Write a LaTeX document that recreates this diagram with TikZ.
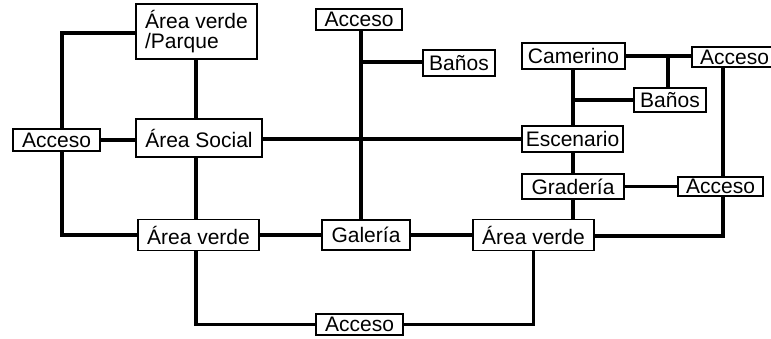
\documentclass[tikz,border=0pt]{standalone}
\usepackage{fontspec}
\setmainfont{Liberation Sans}
\usepackage{tikz}
\usetikzlibrary{calc,positioning,backgrounds}

\begin{document}
\begin{tikzpicture}[x=1pt,y=-1pt,
  box/.style={draw,line width=1.8pt,fill=white,inner sep=0pt,
    font=\fontsize{21}{19.5}\selectfont},
  link/.style={line width=3.8pt}]
  \useasboundingbox (0,0) rectangle (771,338);
  % areas
  \node[box,minimum width=121pt,minimum height=55pt,align=left] (parque) at (196.5,31.5) {Área verde\\/Parque};
  \node[box,minimum width=87pt,minimum height=22pt] (accLeft) at (56.5,140) {Acceso};
  \node[box,minimum width=126pt,minimum height=38pt] (social) at (199,138) {Área Social};
  \node[box,minimum width=86pt,minimum height=21pt] (accTop) at (359,19.5) {Acceso};
  \node[box,minimum width=72pt,minimum height=26pt] (banosA) at (459,63) {Baños};
  \node[box,minimum width=121pt,minimum height=31pt] (verdeA) at (198.5,235) {Área verde};
  \node[box,minimum width=88pt,minimum height=30pt] (galeria) at (366,235) {Galería};
  \node[box,minimum width=121pt,minimum height=31pt] (verdeB) at (533.5,235) {Área verde};
  \node[box,minimum width=87pt,minimum height=21pt] (accBot) at (359.5,324.5) {Acceso};
  % stage side
  \node[box,minimum width=103pt,minimum height=26pt] (camerino) at (573.5,56) {Camerino};
  \node[box,minimum width=85pt,minimum height=20pt] (accRT) at (734.5,57) {Acceso};
  \node[box,minimum width=72pt,minimum height=24pt] (banosB) at (670,100) {Baños};
  \node[box,minimum width=101pt,minimum height=26pt] (escenario) at (572.5,139) {Escenario};
  \node[box,minimum width=102pt,minimum height=25pt] (graderia) at (573,186.5) {Gradería};
  \node[box,minimum width=85pt,minimum height=19pt] (accRM) at (720.5,186.5) {Acceso};
  % guide points
  \coordinate (lx) at (62,33);
  \coordinate (mx) at (196,0);
  \coordinate (vx) at (361,62);
  \coordinate (sx) at (573,100);
  \coordinate (bx) at (668,56);
  \coordinate (rx) at (723,236);
  \begin{scope}[on background layer]
  \draw[link] (parque.west |- lx) -- (lx) -- (accLeft.north -| lx);
  \draw[link] (accLeft.south -| lx) |- (verdeA.west);
  \draw[link] (accLeft.east) -- (accLeft.east -| social.west);
  \draw[link] (parque.south -| mx) -- (social.north -| mx);
  \draw[link] (social.south -| mx) -- (verdeA.north -| mx);
  \draw[link] (social.east |- escenario.west) -- (escenario.west);
  \draw[link] (accTop.south -| vx) -- (galeria.north -| vx);
  \draw[link] (vx) -- (vx -| banosA.west);
  \draw[link] (verdeA.east) -- (galeria.west);
  \draw[link] (galeria.east) -- (verdeB.west);
  \draw[link] (verdeA.south -| mx) |- (accBot.west);
  \draw[link] (verdeB.south) |- (accBot.east);
  \draw[link] (camerino.east |- bx) -- (accRT.west |- bx);
  \draw[link] (bx) -- (banosB.north -| bx);
  \draw[link] (camerino.south -| sx) -- (escenario.north -| sx);
  \draw[link] (sx) -- (banosB.west);
  \draw[link] (escenario.south -| sx) -- (graderia.north -| sx);
  \draw[link] (graderia.south -| sx) -- (verdeB.north -| sx);
  \draw[link] (graderia.east) -- (accRM.west);
  \draw[link] (accRT.south -| rx) -- (accRM.north -| rx);
  \draw[link] (accRM.south -| rx) -- (rx) -- (verdeB.east |- rx);
  \end{scope}
\end{tikzpicture}
\end{document}
